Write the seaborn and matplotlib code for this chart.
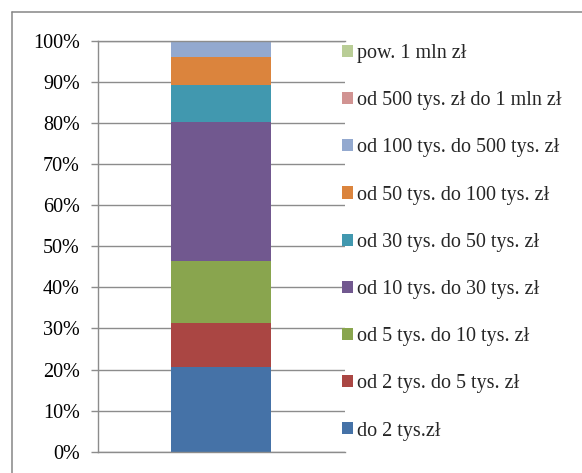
import matplotlib
matplotlib.use("Agg")
import matplotlib.pyplot as plt
from matplotlib.patches import Patch
from matplotlib.lines import Line2D
from matplotlib.ticker import FuncFormatter
import seaborn as sns
import pandas as pd

# Income brackets (bottom to top of the stack) and their shares in %
brackets = [
    "do 2 tys.zł",
    "od 2 tys. do 5 tys. zł",
    "od 5 tys. do 10 tys. zł",
    "od 10 tys. do 30 tys. zł",
    "od 30 tys. do 50 tys. zł",
    "od 50 tys. do 100 tys. zł",
    "od 100 tys. do 500 tys. zł",
    "od 500 tys. zł do 1 mln zł",
    "pow. 1 mln zł",
]
shares = [20.6, 10.8, 15.1, 33.6, 9.2, 6.7, 3.7, 0.1, 0.2]
colors = ["#4572A7", "#AA4643", "#89A54E", "#71588F", "#4198AF",
          "#DB843D", "#93A9CF", "#D19392", "#B9CD96"]
y_ticks = list(range(0, 101, 10))

sns.set_style("white")
plt.rcParams["font.family"] = ["Liberation Serif", "DejaVu Serif"]

W, H = 582, 473
fig = plt.figure(figsize=(W / 100, H / 100), dpi=100)
ax = fig.add_axes([97.7 / W, 21.3 / H, (345 - 97.7) / W, (451.7 - 40.7) / H])

df = pd.DataFrame({"grupa": [""] * len(brackets), "przedzial": brackets, "udzial": shares})

grid_c = "#8C8C8C"
bottom = 0.0
for (_, row), c in zip(df.iterrows(), colors):
    sns.barplot(x=[row["grupa"]], y=[row["udzial"]], bottom=bottom, color=c,
                width=0.405, saturation=1, linewidth=0, ax=ax)
    bottom += row["udzial"]

ax.set_xlim(-0.5, 0.5)
ax.set_ylim(0, 100)
ax.set_yticks(y_ticks)
ax.yaxis.set_major_formatter(FuncFormatter(lambda v, _: f"{v:.0f}%"))
ax.set_xticks([])
ax.set_xlabel("")
ax.set_ylabel("")
ax.set_axisbelow(True)
ax.yaxis.grid(True, color=grid_c, linewidth=1.0)
ax.xaxis.grid(False)
for side in ["left", "bottom", "top"]:
    ax.spines[side].set_visible(True)
    ax.spines[side].set_color(grid_c)
    ax.spines[side].set_linewidth(1.0)
ax.spines["right"].set_visible(False)
ax.tick_params(axis="y", direction="out", length=5, width=1.0, color=grid_c,
               pad=8, labelsize=14.5, labelcolor="black", left=True)

handles = [Patch(facecolor=c, edgecolor="none") for c in colors][::-1]
labels = brackets[::-1]
fig.legend(handles, labels, loc="upper left",
           bbox_to_anchor=(342 / W, 1 - 44 / H), bbox_transform=fig.transFigure,
           frameon=False, fontsize=14.5, handlelength=0.55, handleheight=0.55,
           handletextpad=0.2, labelspacing=1.40, borderpad=0, borderaxespad=0)

# Chart area border (top and left edges)
fig.add_artist(Line2D([12 / W, 1], [1 - 12 / H, 1 - 12 / H], color="#868686", lw=1.1))
fig.add_artist(Line2D([12 / W, 12 / W], [0, 1 - 12 / H], color="#868686", lw=1.1))

fig.savefig("out.png", dpi=100)
